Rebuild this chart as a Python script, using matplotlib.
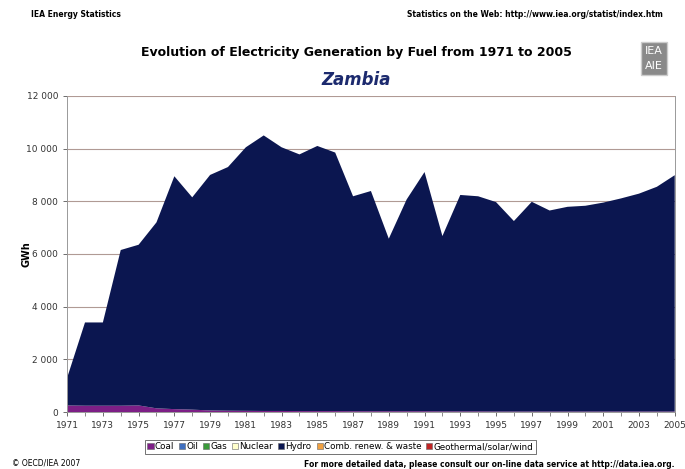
import numpy as np
import matplotlib
matplotlib.use("Agg")
from matplotlib import pyplot as plt
from matplotlib.patches import Patch

years = list(range(1971, 2006))
total = [1300, 3400, 3400, 6150, 6350, 7200, 8950, 8150, 9000, 9300,
         10050, 10500, 10050, 9780, 10100, 9850, 8190, 8390, 6580, 8070,
         9110, 6680, 8240, 8190, 7970, 7250, 7980, 7650, 7790, 7830,
         7950, 8110, 8290, 8550, 8990]
coal = [250, 240, 240, 240, 250, 140, 110, 90, 60, 50,
        45, 40, 40, 35, 35, 35, 30, 30, 30, 30,
        30, 25, 25, 25, 20, 20, 20, 20, 20, 20,
        20, 20, 20, 20, 20]
hydro = [t - c for t, c in zip(total, coal)]

fuels = ["Coal", "Oil", "Gas", "Nuclear", "Hydro", "Comb. renew. & waste",
         "Geothermal/solar/wind"]
colors = ["#7d1f86", "#3f6fc0", "#3a9a3a", "#ffffcc", "#0b1650", "#f0a040",
          "#c02424"]

fig = plt.figure(figsize=(6.85, 4.69), dpi=100)
ax = fig.add_axes([0.098, 0.1215, 0.887, 0.674])

ax.stackplot(years, coal, hydro, colors=[colors[0], colors[4]], linewidth=0)
ax.set_xlim(1971, 2005)
ax.set_ylim(0, 12000)
ax.set_yticks(range(0, 12001, 2000))
ax.set_yticklabels(["{:,}".format(v).replace(",", " ") for v in range(0, 12001, 2000)])
ax.set_xticks(years, minor=True)
ax.set_xticks(years[::2])
ax.tick_params(axis="both", labelsize=6.5, colors="#555555", length=3, width=0.6)
ax.tick_params(axis="x", which="minor", length=3, width=0.6, colors="#777777")
for lab in ax.get_xticklabels() + ax.get_yticklabels():
    lab.set_color("#333333")
ax.yaxis.grid(True, color="#b09a94", linewidth=0.8)
ax.set_axisbelow(True)
for s in ax.spines.values():
    s.set_color("#999999")
    s.set_linewidth(0.7)
ax.spines["top"].set_visible(False)
ax.set_ylabel("GWh", fontsize=7, fontweight="bold")
ax.yaxis.set_label_coords(-0.058, 0.5)

handles = [Patch(facecolor=c, edgecolor="#666666", linewidth=0.4) for c in colors]
leg = fig.legend(handles, fuels, loc="center", bbox_to_anchor=(0.497, 0.047),
                 ncol=7, fontsize=6.3, frameon=True, fancybox=False,
                 handlelength=0.7, handleheight=0.7, handletextpad=0.15,
                 columnspacing=0.55, borderpad=0.3, edgecolor="#333333")
leg.get_frame().set_linewidth(0.6)

fig.text(0.045, 0.97, "IEA Energy Statistics", fontsize=5.5, fontweight="bold",
         va="center")
fig.text(0.967, 0.97, "Statistics on the Web: http://www.iea.org/statist/index.htm",
         fontsize=5.5, fontweight="bold", ha="right", va="center")
fig.text(0.52, 0.889, "Evolution of Electricity Generation by Fuel from 1971 to 2005",
         fontsize=9, fontweight="bold", ha="center", va="center")
fig.text(0.52, 0.83, "Zambia", fontsize=12, fontweight="bold", style="italic",
         color="#1c2a6e", ha="center", va="center")
fig.text(0.955, 0.875, "IEA\nAIE", fontsize=8, color="white", ha="center",
         va="center", linespacing=1.6,
         bbox=dict(facecolor="#8a8a8a", edgecolor="#cccccc", boxstyle="square,pad=0.35"))
fig.text(0.018, 0.012, "\u00a9 OECD/IEA 2007", fontsize=5.5, va="center")
fig.text(0.985, 0.01, "For more detailed data, please consult our on-line data service at http://data.iea.org.",
         fontsize=5.5, fontweight="bold", ha="right", va="center")

plt.savefig("out.png", dpi=100)
